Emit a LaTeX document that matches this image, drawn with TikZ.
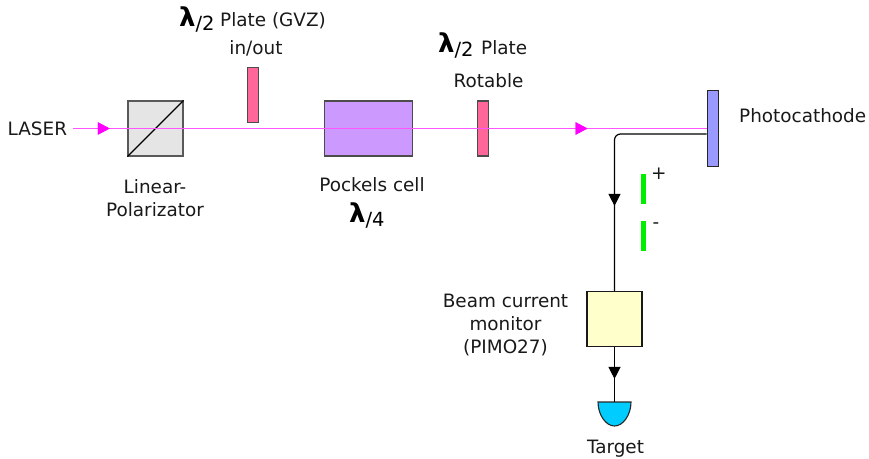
\documentclass[tikz,border=0pt]{standalone}
\usepackage{fontspec}
\setmainfont{DejaVu Sans}
\usetikzlibrary{arrows.meta,decorations.markings}
\definecolor{beam}{HTML}{FF55FF}
\definecolor{tipm}{HTML}{FF00FF}
\tikzset{
  x=1pt,y=-1pt,
  lbl/.style={font=\fontsize{18.4}{23}\selectfont,align=center,inner sep=0pt,text=black!90},
  lam/.style={inner sep=0pt,anchor=base west},
  part/.style={draw=#1,line width=1.1pt,inner sep=0pt,shape=rectangle},
  beamline/.style={draw=beam,line width=1.9pt},
  wire/.style={draw=black,line width=1.2pt},
  midtip/.style 2 args={postaction={decorate},decoration={markings,mark=at position #1 with {\arrow[#2]{Triangle[length=12pt,width=12pt]}}}}
}
\newcommand{\lamb}[1]{{\fontsize{26}{26}\selectfont\bfseries λ}{\fontsize{19.5}{19.5}\selectfont\raisebox{-4pt}{/#1}}}
\begin{document}
\begin{tikzpicture}
\useasboundingbox (0,0) rectangle (869,458);
% components
\node[part=black!65,fill=black!10,minimum width=55pt,minimum height=55pt] (pol) at (155.5,128.5) {};
\node[part=black!70,fill={rgb,255:red,255;green,102;blue,153},minimum width=11pt,minimum height=54.5pt] (plateA) at (253.2,94.8) {};
\node[part=black!70,fill={rgb,255:red,204;green,153;blue,255},minimum width=87.5pt,minimum height=55pt] (pock) at (368.3,128.5) {};
\node[part=black!70,fill={rgb,255:red,255;green,102;blue,153},minimum width=11pt,minimum height=55pt] (plateB) at (483.2,128.5) {};
\node[part=black!85,fill={rgb,255:red,153;green,153;blue,255},minimum width=11pt,minimum height=76pt] (cath) at (712.7,128.5) {};
\node[part=black!90,fill={rgb,255:red,255;green,255;blue,204},minimum width=55pt,minimum height=55pt] (mon) at (614.5,319) {};
\draw[line width=1.2pt] (pol.south west) -- (pol.north east);
% electrodes
\node[fill={rgb,255:red,0;green,238;blue,0},inner sep=0pt,minimum width=4.6pt,minimum height=30pt] (plus) at (643.3,189) {};
\node[fill={rgb,255:red,0;green,238;blue,0},inner sep=0pt,minimum width=4.6pt,minimum height=30pt] (minus) at (643.3,236) {};
% target
\coordinate (tgt) at (614.5,402);
\draw[draw=black!85,line width=1.1pt,fill={rgb,255:red,0;green,204;blue,255}] (598,402) -- (631,402) .. controls (631,415) and (623,426) .. (614.5,426) .. controls (606,426) and (598,415) .. (598,402) -- cycle;
% beam
\coordinate (las) at (73,128.5);
\path[beamline,midtip={0.058}{tipm},midtip={0.812}{tipm}] (las) -- (cath.west |- las);
% electron line
\coordinate (em) at (cath.west |- 0,134);
\path[wire,rounded corners=6pt,midtip={0.655}{black}] (em) -- (614.5,134) -- (mon.north);
\path[wire,midtip={0.58}{black}] (mon.south) -- (tgt);
% labels
\node[lbl,anchor=base west] (tLaser) at (7.5,135.5) {LASER};
\node[lbl] (tPol) at (155,198.5) {Linear-\\Polarizator};
\node[lam] (lamA) at (179,26.5) {\lamb{2}};
\node[lbl,anchor=base west] (tPlateA) at (220,26) {Plate (GVZ)};
\node[lbl,anchor=base] (tInOut) at (256,54) {in/out};
\node[lbl,anchor=base] (tPock) at (372,191) {Pockels cell};
\node[lam] (lamC) at (349,222) {\lamb{4}};
\node[lam] (lamB) at (438,52) {\lamb{2}};
\node[lbl,anchor=base west] (tPlateB) at (481,54) {Plate};
\node[lbl,anchor=base] (tRot) at (488.5,87) {Rotable};
\node[lbl,anchor=base west] (tCath) at (739,122) {Photocathode};
\node[lbl,anchor=base west] (tPlus) at (651,179) {+};
\node[lbl,anchor=base west] (tMinus) at (652.5,228) {-};
\node[lbl] (tMon) at (505.5,325) {Beam current\\monitor\\(PIMO27)};
\node[lbl,anchor=base] (tTgt) at (615.5,453.5) {Target};
\end{tikzpicture}
\end{document}
